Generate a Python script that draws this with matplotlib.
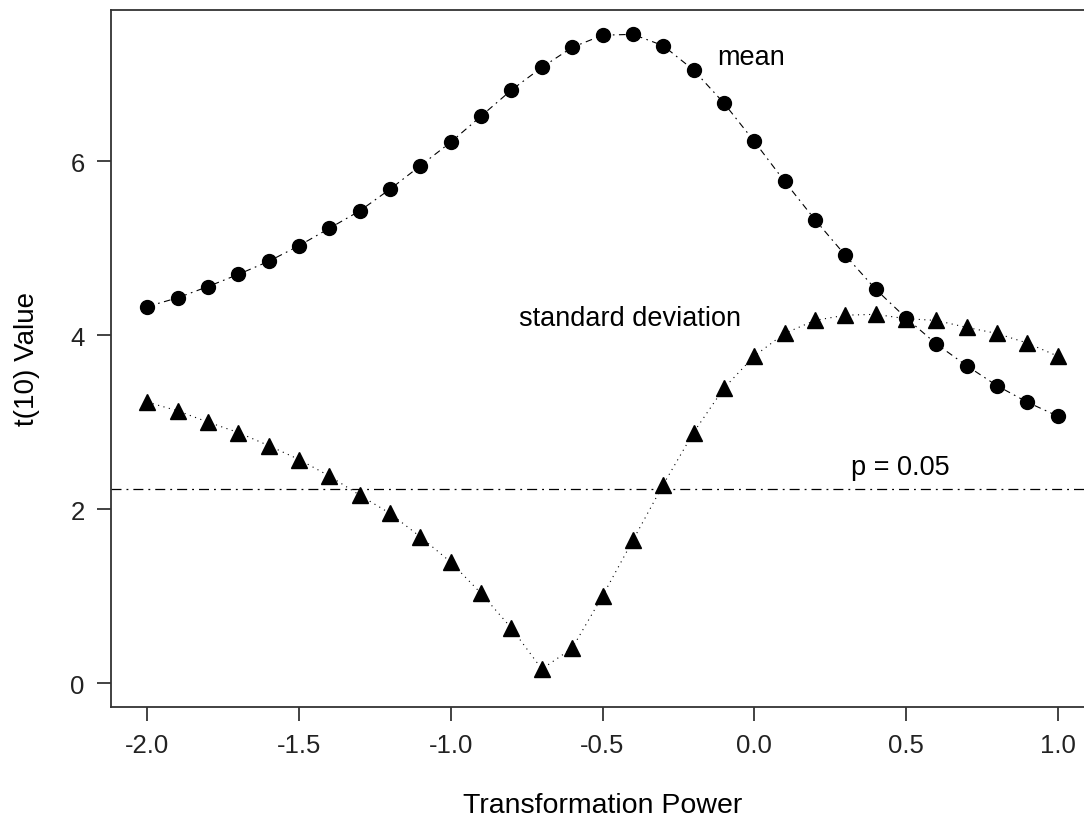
import numpy as np
import matplotlib
matplotlib.use('Agg')
from matplotlib import pyplot as plt

plt.rcParams['font.family'] = ['Liberation Sans', 'DejaVu Sans']

power = np.round(np.arange(-2.0, 1.01, 0.1), 1)

t_mean = [4.33, 4.43, 4.56, 4.70, 4.85, 5.03, 5.23, 5.43, 5.68, 5.95,
          6.22, 6.52, 6.82, 7.08, 7.31, 7.45, 7.46, 7.33, 7.05, 6.67,
          6.23, 5.77, 5.33, 4.92, 4.53, 4.20, 3.90, 3.65, 3.42, 3.23, 3.07]

t_sd = [3.23, 3.13, 3.00, 2.88, 2.73, 2.57, 2.38, 2.16, 1.95, 1.68,
        1.39, 1.03, 0.63, 0.16, 0.40, 1.00, 1.64, 2.28, 2.88, 3.39,
        3.76, 4.02, 4.17, 4.23, 4.24, 4.19, 4.17, 4.09, 4.02, 3.91, 3.76]

t_crit = 2.228  # t(10), p = 0.05

fig = plt.figure(figsize=(10.84, 8.2), dpi=100)
ax = fig.add_axes([111 / 1084, 1 - 708 / 820, (1094 - 111) / 1084, (708 - 11) / 820])

ax.plot(power, t_mean, color='black', lw=0.8, ls=(0, (6, 4, 1.5, 4)),
        marker='o', ms=10, mfc='black', mec='black')
ax.plot(power, t_sd, color='black', lw=0.8, ls=(0, (1, 4)),
        marker='^', ms=11, mfc='black', mec='black')
ax.axhline(t_crit, color='black', lw=0.9, ls=(0, (8, 4, 1.5, 4)))

ax.text(-0.01, 7.2, 'mean', fontsize=19.5, ha='center', va='center')
ax.text(-0.41, 4.2, 'standard deviation', fontsize=19.5, ha='center', va='center')
ax.text(0.48, 2.48, 'p = 0.05', fontsize=19.5, ha='center', va='center')

ax.set_xlim(-2.12, 1.12)
ax.set_ylim(-0.276, 7.74)
ax.set_xticks([-2.0, -1.5, -1.0, -0.5, 0.0, 0.5, 1.0])
ax.set_xticklabels(['-2.0', '-1.5', '-1.0', '-0.5', '0.0', '0.5', '1.0'])
ax.set_yticks([0, 2, 4, 6])
ax.tick_params(direction='out', length=10, width=1.2, labelsize=18.5, colors='#222222')
ax.tick_params(axis='x', pad=9)
ax.tick_params(axis='y', pad=9)
for s in ax.spines.values():
    s.set_linewidth(1.3)
    s.set_color('#333333')

ax.set_xlabel('Transformation Power', fontsize=20.5, labelpad=25)
ax.set_ylabel('t(10) Value', fontsize=20, labelpad=22)

fig.savefig('out.png', dpi=100)
